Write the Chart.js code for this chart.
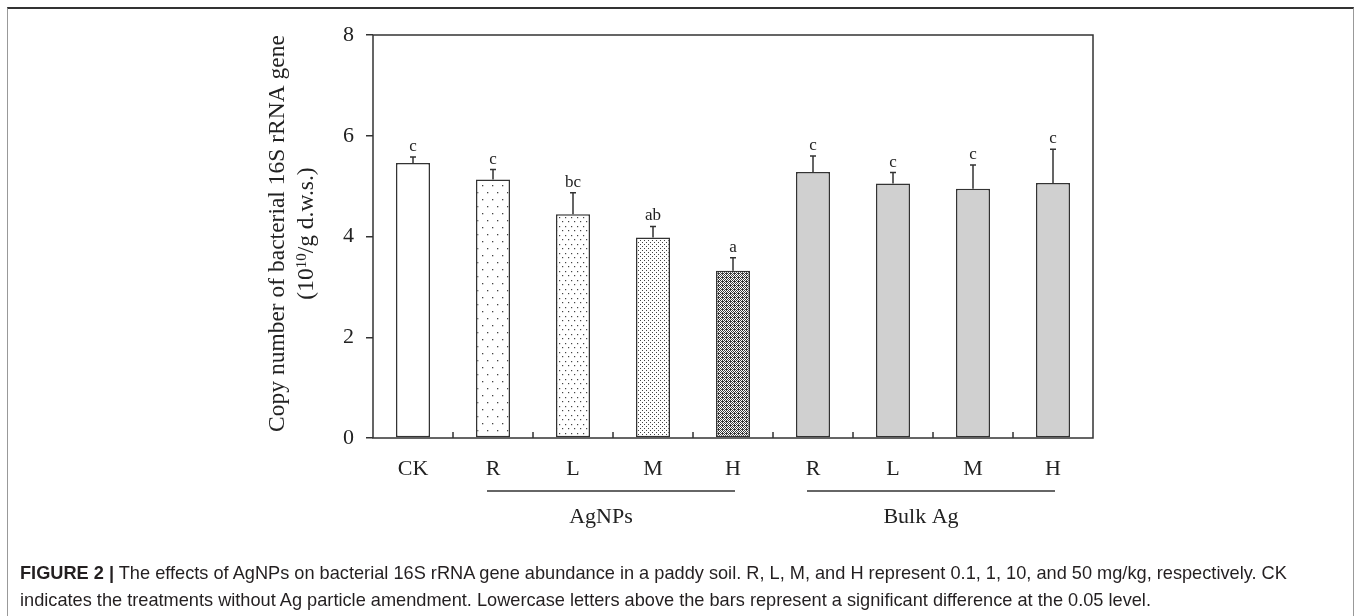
<!DOCTYPE html>
<html>
<head>
<meta charset="utf-8">
<script src="https://cdn.jsdelivr.net/npm/chart.js@4.4.0/dist/chart.umd.min.js"></script>
<style>
  html, body { margin: 0; padding: 0; background: #fff; }
  #wrap { position: relative; width: 1358px; height: 616px; overflow: hidden; }
  #frame { position: absolute; left: 7px; top: 7px; width: 1347px; height: 620px;
           border: 1px solid #999; border-top: 2px solid #333; box-sizing: border-box; }
  canvas { position: absolute; left: 0; top: 0; }
  #caption { position: absolute; left: 20px; top: 560px; width: 1330px; white-space: nowrap;
             font-family: 'Liberation Sans', Arial, sans-serif; font-size: 18.2px;
             line-height: 27px; color: #231f20; }
  #caption b { font-weight: bold; }
</style>
</head>
<body>
<div id="wrap">
  <div id="frame"></div>
  <canvas id="chart" width="1358" height="616"></canvas>
  <div id="caption"><b>FIGURE 2 |</b> The effects of AgNPs on bacterial 16S rRNA gene abundance in a paddy soil. R, L, M, and H represent 0.1, 1, 10, and 50 mg/kg, respectively. CK<br>indicates the treatments without Ag particle amendment. Lowercase letters above the bars represent a significant difference at the 0.05 level.</div>
</div>
<script>
// data
const categories = ['CK', 'R', 'L', 'M', 'H', 'R', 'L', 'M', 'H'];
const values = [5.46, 5.13, 4.44, 3.98, 3.32, 5.28, 5.05, 4.95, 5.06];
const errors = [0.12, 0.20, 0.43, 0.22, 0.26, 0.32, 0.22, 0.47, 0.67];
const letters = ['c', 'c', 'bc', 'ab', 'a', 'c', 'c', 'c', 'c'];
const yTicks = [0, 2, 4, 6, 8];
const groups = [
  { label: 'AgNPs', from: 1, to: 4 },
  { label: 'Bulk Ag', from: 5, to: 8 }
];

const serif = "'Liberation Serif', 'Times New Roman', serif";
const ink = '#333';

// fill patterns for the bars
function dotPattern(w, h, dots, r) {
  const c = document.createElement('canvas');
  c.width = w; c.height = h;
  const g = c.getContext('2d');
  g.fillStyle = '#fff';
  g.fillRect(0, 0, w, h);
  g.fillStyle = '#444';
  dots.forEach(function(d) {
    g.fillRect(d[0], d[1], r, r);
  });
  return g.createPattern(c, 'repeat');
}

function crossPattern() {
  const c = document.createElement('canvas');
  c.width = 4; c.height = 4;
  const g = c.getContext('2d');
  g.fillStyle = '#fff';
  g.fillRect(0, 0, 4, 4);
  g.fillStyle = '#3a3a3a';
  g.fillRect(0, 0, 1, 1); g.fillRect(2, 0, 1, 1);
  g.fillRect(1, 1, 2, 1);
  g.fillRect(0, 2, 1, 1); g.fillRect(2, 2, 1, 1);
  g.fillRect(1, 3, 1, 1); g.fillRect(3, 3, 1, 1);
  g.fillRect(3, 1, 1, 1);
  return g.createPattern(c, 'repeat');
}

const fills = [
  '#fff',
  dotPattern(10, 14, [[2, 3], [7, 10]], 1.3),
  dotPattern(6, 9, [[1, 1], [4, 5]], 1.2),
  dotPattern(4, 4, [[0, 0], [2, 2]], 1),
  crossPattern(),
  '#d0d0d0', '#d0d0d0', '#d0d0d0', '#d0d0d0'
];

const extras = {
  id: 'extras',
  afterDatasetsDraw(chart) {
    const ctx = chart.ctx;
    const x = chart.scales.x, y = chart.scales.y;
    const area = chart.chartArea;
    ctx.save();

    // error bars (upper only) and letters
    ctx.strokeStyle = ink;
    ctx.lineWidth = 1.5;
    ctx.fillStyle = '#222';
    ctx.font = '17px ' + serif;
    ctx.textAlign = 'center';
    ctx.textBaseline = 'alphabetic';
    values.forEach(function(v, i) {
      const cx = x.getPixelForValue(i);
      const yt = y.getPixelForValue(v);
      const ye = y.getPixelForValue(v + errors[i]);
      ctx.beginPath();
      ctx.moveTo(cx, yt);
      ctx.lineTo(cx, ye);
      ctx.moveTo(cx - 3, ye);
      ctx.lineTo(cx + 3, ye);
      ctx.stroke();
      ctx.fillText(letters[i], cx, ye - 6);
    });

    // box around plot
    ctx.lineWidth = 1.5;
    ctx.strokeStyle = ink;
    ctx.strokeRect(area.left, area.top, area.right - area.left, area.bottom - area.top);

    // inward ticks between categories
    ctx.beginPath();
    for (let i = 0; i < categories.length - 1; i++) {
      const tx = (x.getPixelForValue(i) + x.getPixelForValue(i + 1)) / 2;
      ctx.moveTo(tx, area.bottom);
      ctx.lineTo(tx, area.bottom - 6);
    }
    ctx.stroke();

    // group lines and labels
    ctx.font = '22px ' + serif;
    ctx.fillStyle = '#222';
    ctx.textBaseline = 'middle';
    groups.forEach(function(gr) {
      const x1 = x.getPixelForValue(gr.from) - 6;
      const x2 = x.getPixelForValue(gr.to) + 2;
      ctx.beginPath();
      ctx.moveTo(x1, area.bottom + 53);
      ctx.lineTo(x2, area.bottom + 53);
      ctx.stroke();
      ctx.fillText(gr.label, (x1 + x2) / 2 - 10, area.bottom + 79);
    });

    // y axis title, two lines
    const midY = (area.top + area.bottom) / 2 - 3;
    ctx.translate(area.left - 95, midY);
    ctx.rotate(-Math.PI / 2);
    ctx.font = '23.5px ' + serif;
    ctx.fillText('Copy number of bacterial 16S rRNA gene', 0, 0);
    const t1 = '(10', t2 = '10', t3 = '/g d.w.s.)';
    ctx.font = '23.5px ' + serif;
    const w1 = ctx.measureText(t1).width, w3 = ctx.measureText(t3).width;
    ctx.font = '15px ' + serif;
    const w2 = ctx.measureText(t2).width;
    let sx = -(w1 + w2 + w3) / 2;
    ctx.textAlign = 'left';
    ctx.font = '23.5px ' + serif;
    ctx.fillText(t1, sx, 29);
    ctx.font = '15px ' + serif;
    ctx.fillText(t2, sx + w1, 24);
    ctx.font = '23.5px ' + serif;
    ctx.fillText(t3, sx + w1 + w2, 29);
    ctx.restore();
  }
};

new Chart(document.getElementById('chart'), {
  type: 'bar',
  data: {
    labels: categories,
    datasets: [{
      data: values,
      backgroundColor: fills,
      borderColor: ink,
      borderWidth: 1.5,
      borderSkipped: false,
      barPercentage: 0.425,
      categoryPercentage: 1
    }]
  },
  options: {
    responsive: false,
    animation: false,
    events: [],
    layout: { padding: { left: 273, right: 265, top: 35, bottom: 138 } },
    plugins: { legend: { display: false }, tooltip: { enabled: false } },
    scales: {
      x: {
        grid: { display: false, drawTicks: false },
        border: { display: false },
        ticks: { color: '#222', font: { family: serif, size: 22 }, padding: 18 },
        afterFit(s) { s.height = 40; }
      },
      y: {
        min: 0, max: 8,
        afterBuildTicks(s) { s.ticks = yTicks.map(function(v) { return { value: v }; }); },
        grid: { drawOnChartArea: false, tickLength: 7, color: ink, lineWidth: 1.5 },
        border: { display: false },
        ticks: { color: '#222', font: { family: serif, size: 22 }, padding: 12 },
        afterFit(s) { s.width = 100; }
      }
    }
  },
  plugins: [extras]
});
</script>
</body>
</html>
